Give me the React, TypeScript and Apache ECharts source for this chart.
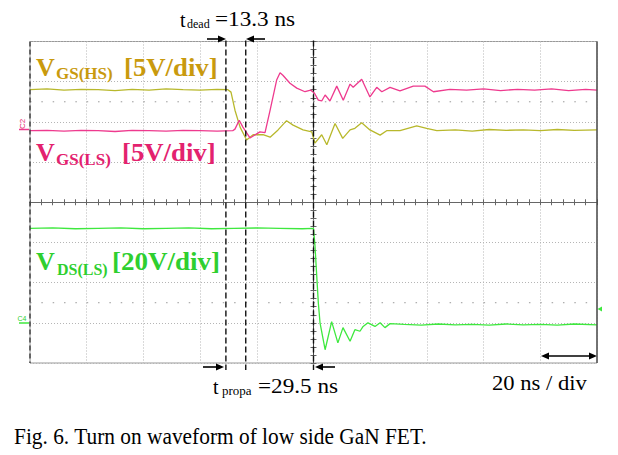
import React, { useEffect, useRef } from "react";
import * as echarts from "echarts";

// Time in ns (20 ns / div); amplitude in screen divisions measured from the centre line.
const TIME_MIN = -100;
const TIME_MAX = 100;
const TIME_DIV = 20;
const DIV_MIN = -4;
const DIV_MAX = 4;

const seriesNames = ["VGS(HS)", "VGS(LS)", "VDS(LS)"];

const vgsHS: [number, number][] = [
  [-100, 2.8], [-94, 2.82], [-88, 2.79], [-82, 2.81], [-76, 2.8], [-70, 2.78], [-64, 2.81],
  [-58, 2.79], [-52, 2.82], [-46, 2.8], [-40, 2.79], [-34, 2.81], [-30.2, 2.8], [-29.1, 2.74],
  [-27.7, 2.29], [-25.9, 1.87], [-23.6, 1.55], [-21.3, 1.68], [-17.8, 1.68], [-15.3, 1.62],
  [-12.5, 1.8], [-9.5, 2.03], [-7.2, 1.92], [-3.7, 1.8], [-0.6, 1.75], [0.5, 1.47], [2.9, 1.68],
  [4.7, 1.43], [7.6, 1.96], [10.3, 1.59], [12.9, 1.8], [14.6, 1.84], [17.0, 1.98], [19.9, 1.8],
  [23.5, 1.67], [25.8, 1.78], [30.5, 1.78], [36.4, 1.9], [39.9, 1.84], [43.5, 1.78], [50, 1.8],
  [56, 1.77], [62, 1.81], [68, 1.79], [74, 1.8], [80, 1.78], [86, 1.81], [92, 1.79], [100, 1.8],
];

const vgsLS: [number, number][] = [
  [-100, 1.78], [-94, 1.79], [-88, 1.77], [-82, 1.79], [-76, 1.78], [-70, 1.76], [-64, 1.79],
  [-58, 1.78], [-52, 1.77], [-46, 1.79], [-40, 1.78], [-34, 1.77], [-28.5, 1.78], [-27.7, 1.82],
  [-26.2, 2.04], [-24.9, 1.87], [-22.4, 1.6], [-18.9, 1.75], [-17.1, 1.73], [-15.3, 2.29],
  [-13.0, 3.04], [-11.8, 3.22], [-10.8, 3.16], [-8.3, 2.96], [-5.9, 2.84], [-3.0, 2.75],
  [-1.0, 2.79], [0.3, 2.72], [1.7, 2.54], [2.9, 2.52], [4.1, 2.67], [5.8, 2.52], [8.2, 2.89],
  [10.5, 2.54], [12.9, 2.94], [14.0, 2.86], [17.0, 3.06], [19.9, 2.62], [22.3, 2.86], [24.1, 2.75],
  [27.0, 2.86], [30.5, 2.77], [35.2, 2.89], [39.3, 2.89], [42.3, 2.75], [48.1, 2.81], [54, 2.79],
  [60, 2.82], [66, 2.78], [72, 2.81], [78, 2.79], [84, 2.82], [90, 2.78], [96, 2.81], [100, 2.79],
];

const vdsLS: [number, number][] = [
  [-100, -0.65], [-92, -0.64], [-84, -0.66], [-76, -0.65], [-68, -0.64], [-60, -0.66], [-52, -0.65],
  [-44, -0.64], [-36, -0.66], [-28, -0.65], [-20, -0.64], [-12, -0.65], [-4, -0.66], [0, -0.65],
  [0.5, -1.06], [1.7, -2.5], [2.3, -3.0], [4.1, -3.67], [6.4, -2.97], [8.6, -3.5], [10.4, -3.12],
  [12.9, -3.46], [14.6, -3.17], [16.4, -3.21], [17.5, -3.09], [19.2, -3.0], [21.7, -3.09],
  [23.5, -3.0], [25.2, -3.12], [27.0, -3.02], [32, -3.04], [38, -3.06], [44, -3.03], [50, -3.05],
  [56, -3.04], [62, -3.06], [68, -3.03], [74, -3.05], [80, -3.04], [86, -3.06], [92, -3.03], [100, -3.05],
];

// cursor (dashed) lines, ns
const cursorTimes = [-30.9, -23.9, 0];
// sparse dotted rows, divisions
const dotRows = [2.5, -2.5];

const traceColors = ["#b8b82c", "#ee3a8e", "#3ee83e"];
const labelColors = ["#c99a0e", "#e3226e", "#2fcf2f"];

const FONT = '"Liberation Serif", "Times New Roman", serif';

function txt(x: number, y: number, text: string, size: number, color: string, bold = false, sx = 1): any {
  return {
    type: "text",
    x,
    y,
    scaleX: sx,
    silent: true,
    style: {
      text,
      fill: color,
      fontSize: size,
      fontFamily: FONT,
      fontWeight: bold ? "bold" : "normal",
      verticalAlign: "middle",
      align: "left",
    },
  };
}

function head(x: number, y: number, dir: number): any {
  const h = 8;
  return {
    type: "polygon",
    silent: true,
    shape: { points: [[x, y], [x - dir * h, y - 3.5], [x - dir * h, y + 3.5]] },
    style: { fill: "#000" },
  };
}

function arrow(x1: number, x2: number, y: number): any[] {
  const dir = x2 > x1 ? 1 : -1;
  return [
    { type: "line", silent: true, shape: { x1, y1: y, x2: x2 - dir * 7, y2: y }, style: { stroke: "#000", lineWidth: 1.6 } },
    head(x2, y, dir),
  ];
}

function doubleArrow(x1: number, x2: number, y: number): any[] {
  return [
    { type: "line", silent: true, shape: { x1: x1 + 7, y1: y, x2: x2 - 7, y2: y }, style: { stroke: "#000", lineWidth: 1.6 } },
    head(x1, y, -1),
    head(x2, y, 1),
  ];
}

function vline(x: number, y1: number, y2: number, color: string, dash: number[] | null, w: number): any {
  return {
    type: "line",
    silent: true,
    z: 10,
    shape: { x1: x, y1, x2: x, y2 },
    style: { stroke: color, lineWidth: w, lineDash: dash || undefined },
  };
}

export default function App() {
  const ref = useRef<HTMLDivElement>(null);
  useEffect(() => {
    if (!ref.current) return;
    const chart = echarts.init(ref.current, undefined, { renderer: "svg" });

    const axisCommon = {
      type: "value" as const,
      axisLabel: { show: false },
      axisTick: { show: true, length: 3, lineStyle: { color: "#666", width: 1 } },
      minorTick: { show: true, splitNumber: 5, length: 3, lineStyle: { color: "#666", width: 1 } },
      minorSplitLine: { show: false },
    };
    const gridLine = { show: true, lineStyle: { color: "#b5b5b5", type: [1, 2], width: 1 } };

    chart.setOption({
      animation: false,
      backgroundColor: "#fff",
      grid: { left: 30, right: 21, top: 41.5, bottom: 92, show: true, borderColor: "#999", borderWidth: 1 },
      xAxis: [
        {
          ...axisCommon,
          min: TIME_MIN, max: TIME_MAX, interval: TIME_DIV, position: "bottom",
          axisLine: { show: true, onZero: true, onZeroAxisIndex: 0, lineStyle: { color: "#666", width: 1 } },
          splitLine: gridLine,
        },
        {
          ...axisCommon,
          min: TIME_MIN, max: TIME_MAX, interval: TIME_DIV, position: "top",
          axisLine: { show: true, onZero: true, onZeroAxisIndex: 0, lineStyle: { color: "#666", width: 1 } },
          splitLine: { show: false },
        },
      ],
      yAxis: [
        {
          ...axisCommon,
          min: DIV_MIN, max: DIV_MAX, interval: 1, position: "left",
          axisLine: { show: true, onZero: true, onZeroAxisIndex: 0, lineStyle: { color: "#444", width: 1, type: [5, 3] } },
          splitLine: gridLine,
        },
        {
          ...axisCommon,
          min: DIV_MIN, max: DIV_MAX, interval: 1, position: "right",
          axisLine: { show: true, onZero: true, onZeroAxisIndex: 0, lineStyle: { color: "#444", width: 1, type: [5, 3] } },
          splitLine: { show: false },
        },
      ],
      series: [
        {
          name: seriesNames[0], type: "line", data: vgsHS, showSymbol: false,
          lineStyle: { color: traceColors[0], width: 1.3 }, itemStyle: { color: traceColors[0] }, z: 3,
        },
        {
          name: seriesNames[1], type: "line", data: vgsLS, showSymbol: false,
          lineStyle: { color: traceColors[1], width: 1.3 }, itemStyle: { color: traceColors[1] }, z: 4,
        },
        {
          name: seriesNames[2], type: "line", data: vdsLS, showSymbol: false,
          lineStyle: { color: traceColors[2], width: 1.3 }, itemStyle: { color: traceColors[2] }, z: 4,
        },
      ],
    });

    const px = (t: number, v: number): number[] =>
      chart.convertToPixel({ xAxisIndex: 0, yAxisIndex: 0 }, [t, v]) as number[];
    const [left, top] = px(TIME_MIN, DIV_MAX);
    const [right, bottom] = px(TIME_MAX, DIV_MIN);

    const graphics: any[] = [];
    // borders
    graphics.push(vline(left, top, bottom, "#333", [5, 3], 1.3));
    graphics.push(vline(right, top, bottom, "#444", null, 1.3));
    // sparse dotted rows
    dotRows.forEach((v) => {
      const y = px(0, v)[1];
      graphics.push({
        type: "line", silent: true, z: 1,
        shape: { x1: left, y1: y, x2: right, y2: y },
        style: { stroke: "#999", lineWidth: 1, lineDash: [1.5, (right - left) / 50 - 1.5] },
      });
    });
    // cursors
    cursorTimes.forEach((t) => {
      const x = px(t, 0)[0];
      graphics.push(vline(x, top - 1, bottom + 7, "#111", [6, 3], 1.4));
    });

    graphics.push(
      // labels
      txt(36, 67, "V", 26, labelColors[0], true),
      txt(56, 73.5, "GS(HS)", 17, labelColors[0], true),
      txt(124, 67, "[5V/div]", 26, labelColors[0], true, 1.03),
      txt(36, 152.5, "V", 26, labelColors[1], true),
      txt(56, 159.5, "GS(LS)", 17, labelColors[1], true),
      txt(122, 152.5, "[5V/div]", 26, labelColors[1], true, 1.03),
      txt(36, 261, "V", 26, labelColors[2], true),
      txt(57, 269, "DS(LS)", 16, labelColors[2], true),
      txt(112, 261, "[20V/div]", 26, labelColors[2], true, 1.04),
      // annotations
      txt(180, 20, "t", 20, "#000"),
      txt(187, 24, "dead", 12, "#000"),
      txt(215, 20, "=13.3 ns", 20, "#000", false, 1.16),
      txt(213, 387, "t", 20, "#000"),
      txt(222, 391, "propa", 12, "#000", false, 1.08),
      txt(258, 387, "=29.5 ns", 20, "#000", false, 1.16),
      txt(492, 383, "20 ns / div", 20, "#000", false, 1.13),
      txt(14, 436, "Fig. 6. Turn on waveform of low side GaN FET.", 23, "#000", false, 0.93),
      ...arrow(207, 226, 39),
      ...arrow(265, 246, 39),
      ...arrow(203, 224, 367),
      ...arrow(335, 315, 367),
      ...doubleArrow(541, 597, 356),
      // channel markers
      {
        type: "text", x: 22, y: 124, rotation: Math.PI / 2, silent: true,
        style: { text: "C2", fill: labelColors[1], fontSize: 8, fontFamily: "Liberation Sans", align: "center", verticalAlign: "middle" },
      },
      { type: "line", silent: true, shape: { x1: 19, y1: 129.5, x2: 29, y2: 129.5 }, style: { stroke: traceColors[1], lineWidth: 1.5 } },
      {
        type: "text", x: 22, y: 318, silent: true,
        style: { text: "C4", fill: labelColors[2], fontSize: 7, fontFamily: "Liberation Sans", align: "center", verticalAlign: "middle" },
      },
      { type: "line", silent: true, shape: { x1: 19, y1: 323, x2: 29, y2: 323 }, style: { stroke: traceColors[2], lineWidth: 1.5 } },
      {
        type: "polygon", silent: true,
        shape: { points: [[597.5, 309], [602, 306.5], [602, 311.5]] },
        style: { fill: traceColors[2] },
      }
    );

    chart.setOption({ graphic: graphics });
    return () => chart.dispose();
  }, []);
  return (
    <div
      ref={ref}
      style={{ position: "fixed", left: 0, top: 0, width: 618, height: 455, background: "#fff" }}
    />
  );
}
